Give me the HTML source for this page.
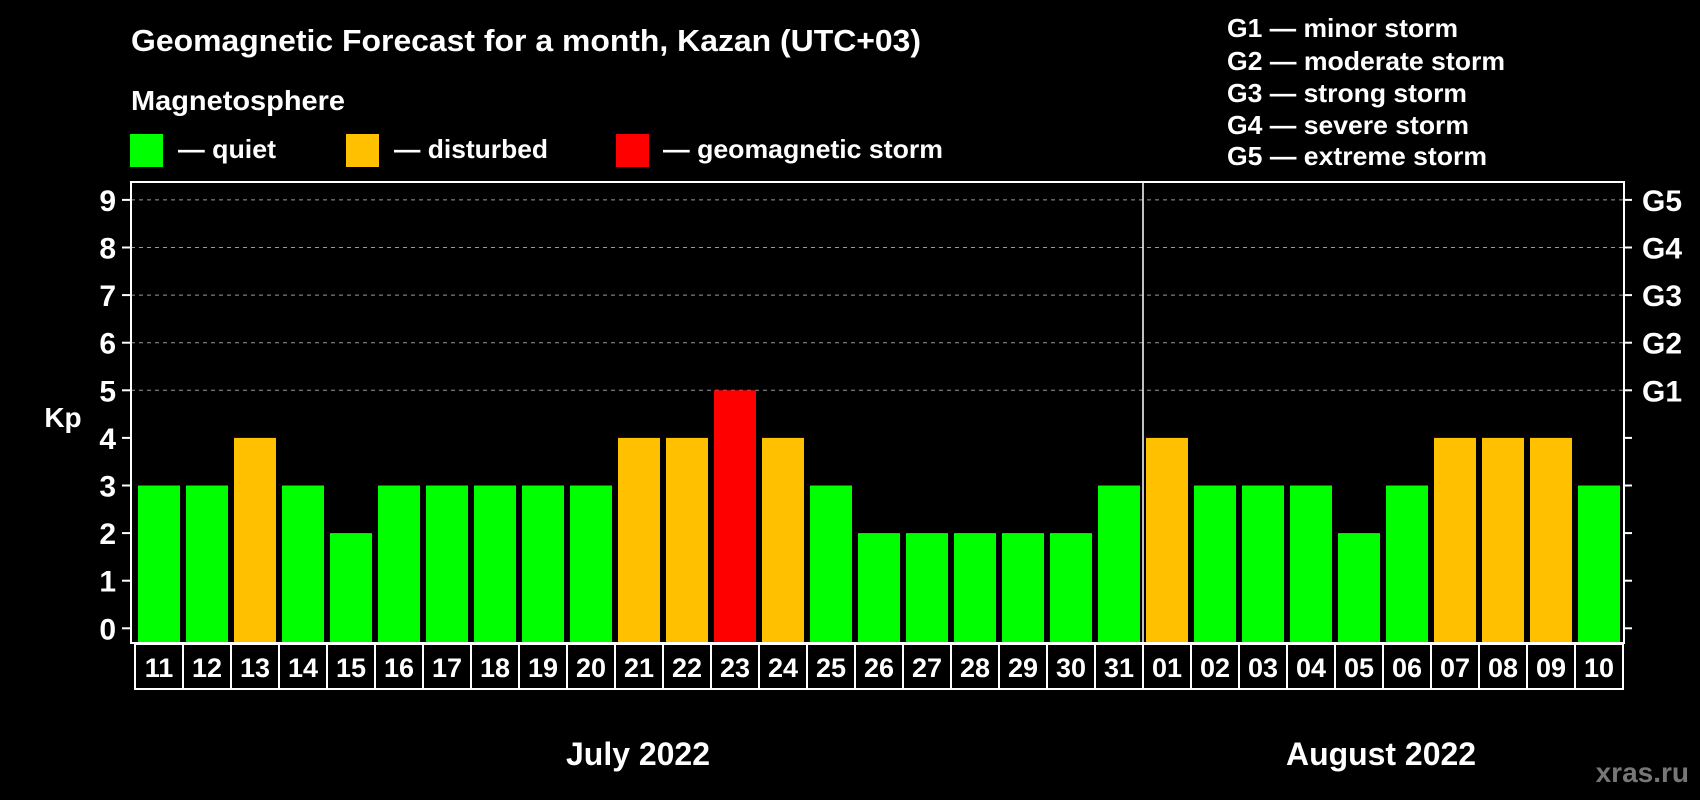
<!DOCTYPE html>
<html><head><meta charset="utf-8"><style>
html,body{margin:0;padding:0;background:#000;width:1700px;height:800px;overflow:hidden}
svg{display:block;font-family:"Liberation Sans",Arial,sans-serif;font-weight:bold}
</style></head><body>
<svg id="chart" width="1700" height="800" viewBox="0 0 1700 800" xmlns="http://www.w3.org/2000/svg">
<rect width="1700" height="800" fill="#000"/>
<text x="131" y="51" fill="#fff" font-size="31" textLength="790" lengthAdjust="spacingAndGlyphs">Geomagnetic Forecast for a month, Kazan (UTC+03)</text>
<text x="131" y="110" fill="#fff" font-size="28" textLength="214" lengthAdjust="spacingAndGlyphs">Magnetosphere</text>
<g><rect x="130" y="134" width="33" height="33" fill="#00ff00"/><text x="178" y="158" fill="#fff" font-size="26" textLength="98" lengthAdjust="spacingAndGlyphs">— quiet</text></g>
<g><rect x="346" y="134" width="33" height="33" fill="#ffc000"/><text x="394" y="158" fill="#fff" font-size="26" textLength="154" lengthAdjust="spacingAndGlyphs">— disturbed</text></g>
<g><rect x="616" y="134" width="33" height="33" fill="#ff0000"/><text x="663" y="158" fill="#fff" font-size="26" textLength="280" lengthAdjust="spacingAndGlyphs">— geomagnetic storm</text></g>
<g fill="#fff" font-size="26">
<text x="1227" y="37" textLength="231" lengthAdjust="spacingAndGlyphs">G1 — minor storm</text>
<text x="1227" y="70" textLength="278" lengthAdjust="spacingAndGlyphs">G2 — moderate storm</text>
<text x="1227" y="102" textLength="240" lengthAdjust="spacingAndGlyphs">G3 — strong storm</text>
<text x="1227" y="134" textLength="242" lengthAdjust="spacingAndGlyphs">G4 — severe storm</text>
<text x="1227" y="165" textLength="260" lengthAdjust="spacingAndGlyphs">G5 — extreme storm</text>
</g>
<g id="grid"></g>
<g id="bars"></g>
<rect x="131" y="182" width="1493" height="461" fill="none" stroke="#fff" stroke-width="2"/>
<line x1="1143" y1="182" x2="1143" y2="643" stroke="#fff" stroke-width="1.5"/>
<g id="axes"></g>
<text x="63" y="427" fill="#fff" font-size="28" text-anchor="middle">Kp</text>
<text x="638" y="765" fill="#fff" font-size="32" text-anchor="middle" textLength="144" lengthAdjust="spacingAndGlyphs">July 2022</text>
<text x="1381" y="765" fill="#fff" font-size="32" text-anchor="middle" textLength="190" lengthAdjust="spacingAndGlyphs">August 2022</text>
<text x="1689" y="782" fill="#777" font-size="28" text-anchor="end">xras.ru</text>
</svg>
<script>
const days = ["11","12","13","14","15","16","17","18","19","20","21","22","23","24","25","26","27","28","29","30","31","01","02","03","04","05","06","07","08","09","10"];
const kpValues = [3,3,4,3,2,3,3,3,3,3,4,4,5,4,3,2,2,2,2,2,3,4,3,3,3,2,3,4,4,4,3];
const yTicks = [0,1,2,3,4,5,6,7,8,9];
const gLabels = ["","","","","","G1","G2","G3","G4","G5"];
const NS="http://www.w3.org/2000/svg";
const y0=628.3, unit=47.6, x0=138, pitch=48, bw=42;
const yScale=v=>y0-v*unit;
const xScale=i=>x0+i*pitch;
function colorFor(v){return v>=5?"#ff0000":(v>=4?"#ffc000":"#00ff00");}
function mk(tag,attrs,parent){const e=document.createElementNS(NS,tag);for(const k in attrs)e.setAttribute(k,attrs[k]);parent.appendChild(e);return e;}
const grid=document.getElementById("grid"),bars=document.getElementById("bars"),axes=document.getElementById("axes");
yTicks.forEach((t,i)=>{
  const y=yScale(t);
  if(t>=5){const l=mk("line",{x1:131,x2:1624,y1:y,y2:y,stroke:"#999","stroke-width":1,"stroke-dasharray":"4,4"},grid);
  
  }
  const tk=mk("line",{x1:122,x2:131,y1:y,y2:y,stroke:"#fff","stroke-width":2},axes);
  
  
  const tr=mk("line",{x1:1624,x2:1632,y1:y,y2:y,stroke:"#fff","stroke-width":2},axes);
  
  
  const lb=mk("text",{x:116,y:y+11,fill:"#fff","font-size":30,"text-anchor":"end"},axes);
  lb.textContent=t;
  
  
  if(gLabels[i]){const g=mk("text",{x:1642,y:y+11,fill:"#fff","font-size":30},axes);g.textContent=gLabels[i];
  
  }
});
kpValues.forEach((v,i)=>{
  const x=xScale(i);
  const r=mk("rect",{x:x,y:yScale(v),width:bw,height:643-yScale(v),fill:colorFor(v)},bars);
  
  
  const b=mk("rect",{x:x-3,y:644,width:48,height:45,fill:"none",stroke:"#fff","stroke-width":2},axes);
  
  
  const t=mk("text",{x:x+bw/2,y:677,fill:"#fff","font-size":27,"text-anchor":"middle"},axes);
  t.textContent=days[i];
  
  
});
</script>
</body></html>
